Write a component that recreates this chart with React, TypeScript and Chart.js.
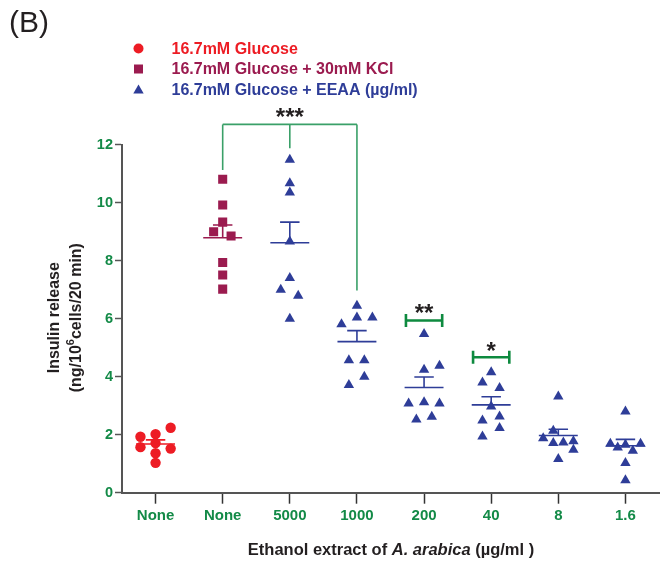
import React, { useEffect, useRef } from 'react';
import { Chart, registerables } from 'chart.js';

Chart.register(...registerables);

// ---------- data ----------
const categories = ['None', 'None', '5000', '1000', '200', '40', '8', '1.6'];

const seriesLabels = [
  '16.7mM Glucose',
  '16.7mM Glucose + 30mM KCl',
  '16.7mM Glucose + EEAA (\u00b5g/ml)',
];

// group 0: 16.7mM glucose only
const glucoseValues = [1.93, 2.02, 2.24, 1.57, 1.71, 1.52, 1.36, 1.03];
const glucoseJitter = [-0.225, 0, 0.225, -0.225, 0, 0.225, 0, 0];

// group 1: glucose + KCl
const kclValues = [10.81, 9.92, 9.33, 9.0, 8.85, 7.94, 7.51, 7.02];
const kclJitter = [0, 0, 0, -0.135, 0.125, 0, 0, 0];

// groups 2..7: glucose + EEAA at 5000, 1000, 200, 40, 8, 1.6 µg/ml
const eeaa5000 = [11.48, 10.67, 10.35, 8.66, 7.4, 7.0, 6.79, 6.0];
const eeaa5000Jitter = [0, 0, 0, 0, 0, -0.135, 0.125, 0];
const eeaa1000 = [6.45, 6.04, 5.81, 6.04, 4.57, 4.57, 4.0, 3.71];
const eeaa1000Jitter = [0, 0, -0.23, 0.23, -0.12, 0.11, 0.11, -0.12];
const eeaa200 = [5.47, 4.24, 4.38, 3.08, 3.12, 3.08, 2.52, 2.62];
const eeaa200Jitter = [0, 0, 0.23, -0.23, 0, 0.23, -0.115, 0.115];
const eeaa40 = [4.15, 3.8, 3.61, 2.97, 2.49, 2.63, 2.23, 1.94];
const eeaa40Jitter = [0, -0.13, 0.125, 0, -0.13, 0.125, 0.125, -0.13];
const eeaa8 = [3.32, 2.14, 1.88, 1.71, 1.73, 1.77, 1.48, 1.16];
const eeaa8Jitter = [0, -0.075, -0.225, -0.075, 0.075, 0.225, 0.225, 0];
const eeaa1p6 = [2.8, 1.69, 1.56, 1.65, 1.69, 1.45, 1.02, 0.43];
const eeaa1p6Jitter = [0, -0.225, -0.115, 0, 0.225, 0.11, 0, 0];

const eeaaGroups = [eeaa5000, eeaa1000, eeaa200, eeaa40, eeaa8, eeaa1p6];
const eeaaJitters = [eeaa5000Jitter, eeaa1000Jitter, eeaa200Jitter, eeaa40Jitter, eeaa8Jitter, eeaa1p6Jitter];

// mean and SEM per group
const groupMeans = [1.68, 8.79, 8.62, 5.21, 3.63, 3.03, 1.97, 1.62];
const groupSems = [0.14, 0.44, 0.71, 0.38, 0.36, 0.28, 0.22, 0.22];

// significance annotations
const bigBracketGroups = [1, 2, 3];
const bigBracketEnds = [11.13, 11.88, 6.97];
const bigBracketLevel = 12.7;
const bigBracketStars = '***';
const bigBracketStarLevel = 13.16;

const smallBracketGroups = [4, 5];
const smallBracketLevels = [5.94, 4.67];
const smallBracketStars = ['**', '*'];
const smallBracketStarLevels = [6.39, 5.09];

const yTicks = [0, 2, 4, 6, 8, 10, 12];

// ---------- styles ----------
const FONT = '"Liberation Sans", Arial, Helvetica, sans-serif';
const RED = '#ED1C24';
const MAROON = '#9B1B4F';
const BLUE = '#2E3D98';
const GREEN = '#138A47';
const BRACKET_LIGHT = '#3AA068';
const BRACKET_DARK = '#0E8A3F';
const DARK = '#231F20';
const AXIS = '#555555';
const seriesColors = [RED, MAROON, BLUE];
const seriesStyles = ['circle', 'rect', 'triangle'];

function drawMarker(ctx: CanvasRenderingContext2D, style: string, x: number, y: number, color: string) {
  ctx.fillStyle = color;
  ctx.beginPath();
  if (style === 'circle') {
    ctx.arc(x, y, 5, 0, Math.PI * 2);
  } else if (style === 'rect') {
    ctx.rect(x - 4.5, y - 4.5, 9, 9);
  } else {
    const r = 6;
    ctx.moveTo(x, y - r);
    ctx.lineTo(x + r * 0.866, y + r / 2);
    ctx.lineTo(x - r * 0.866, y + r / 2);
    ctx.closePath();
  }
  ctx.fill();
}

function drawStars(ctx: CanvasRenderingContext2D, text: string, x: number, yCenter: number, size: number) {
  ctx.font = `bold ${size}px ${FONT}`;
  ctx.fillStyle = DARK;
  ctx.textAlign = 'center';
  ctx.textBaseline = 'alphabetic';
  ctx.fillText(text, x, yCenter + size * 0.57);
}

const overlayPlugin = {
  id: 'overlay',
  beforeDatasetsDraw(chart: any) {
    const { ctx } = chart;
    const x = chart.scales.x;
    const y = chart.scales.y;
    ctx.save();
    groupMeans.forEach((m: number, i: number) => {
      const color = i === 0 ? RED : i === 1 ? MAROON : BLUE;
      const xc = x.getPixelForValue(i);
      const ym = y.getPixelForValue(m);
      const yt = y.getPixelForValue(m + groupSems[i]);
      const hw = x.getPixelForValue(i + 0.29) - xc;
      const cw = x.getPixelForValue(i + 0.145) - xc;
      ctx.strokeStyle = color;
      ctx.lineWidth = 1.6;
      ctx.beginPath();
      ctx.moveTo(xc - hw, ym);
      ctx.lineTo(xc + hw, ym);
      ctx.moveTo(xc, ym);
      ctx.lineTo(xc, yt);
      ctx.moveTo(xc - cw, yt);
      ctx.lineTo(xc + cw, yt);
      ctx.stroke();
    });
    ctx.restore();
  },
  afterDraw(chart: any) {
    const { ctx } = chart;
    const x = chart.scales.x;
    const y = chart.scales.y;
    const area = chart.chartArea;
    ctx.save();

    // big bracket
    ctx.strokeStyle = BRACKET_LIGHT;
    ctx.lineWidth = 1.6;
    ctx.beginPath();
    const yl = y.getPixelForValue(bigBracketLevel);
    const x0 = x.getPixelForValue(bigBracketGroups[0]);
    const x1 = x.getPixelForValue(bigBracketGroups[bigBracketGroups.length - 1]);
    ctx.moveTo(x0, yl);
    ctx.lineTo(x1, yl);
    bigBracketGroups.forEach((g, i) => {
      const gx = x.getPixelForValue(g);
      ctx.moveTo(gx, yl);
      ctx.lineTo(gx, y.getPixelForValue(bigBracketEnds[i]));
    });
    ctx.stroke();
    drawStars(ctx, bigBracketStars, x.getPixelForValue(bigBracketGroups[1]), y.getPixelForValue(bigBracketStarLevel), 24);

    // small brackets
    smallBracketGroups.forEach((g, i) => {
      const gx = x.getPixelForValue(g);
      const hw = x.getPixelForValue(g + 0.27) - gx;
      const ly = y.getPixelForValue(smallBracketLevels[i]);
      ctx.strokeStyle = BRACKET_DARK;
      ctx.lineWidth = 2.6;
      ctx.beginPath();
      ctx.moveTo(gx - hw, ly);
      ctx.lineTo(gx + hw, ly);
      ctx.moveTo(gx - hw, ly - 6.5);
      ctx.lineTo(gx - hw, ly + 6.5);
      ctx.moveTo(gx + hw, ly - 6.5);
      ctx.lineTo(gx + hw, ly + 6.5);
      ctx.stroke();
      drawStars(ctx, smallBracketStars[i], gx, y.getPixelForValue(smallBracketStarLevels[i]), 24);
    });

    // panel label
    ctx.fillStyle = DARK;
    ctx.font = `30px ${FONT}`;
    ctx.textAlign = 'left';
    ctx.textBaseline = 'middle';
    ctx.fillText('(B)', 9, 24);

    // legend
    ctx.font = `bold 16px ${FONT}`;
    seriesLabels.forEach((label, i) => {
      const ly = 48.5 + i * 20.5;
      drawMarker(ctx, seriesStyles[i], 138.5, i === 2 ? ly + 1 : ly, seriesColors[i]);
      ctx.fillStyle = seriesColors[i];
      ctx.textAlign = 'left';
      ctx.textBaseline = 'middle';
      ctx.fillText(label, 171.5, ly + 1);
    });

    // y-axis title
    ctx.save();
    const titleCy = (area.top + area.bottom) / 2 - 1;
    ctx.translate(55, titleCy);
    ctx.rotate(-Math.PI / 2);
    ctx.fillStyle = DARK;
    ctx.textBaseline = 'middle';
    ctx.textAlign = 'center';
    const tFont = `bold 16px ${FONT}`;
    const supFont = `bold 11px ${FONT}`;
    ctx.font = tFont;
    ctx.fillText('Insulin release', 0, 0);
    const p1 = '(ng/10';
    const p2 = '6';
    const p3 = 'cells/20 min)';
    ctx.font = tFont;
    const w1 = ctx.measureText(p1).width;
    const w3 = ctx.measureText(p3).width;
    ctx.font = supFont;
    const w2 = ctx.measureText(p2).width;
    const total = w1 + w2 + w3;
    let cx = -total / 2;
    ctx.textAlign = 'left';
    ctx.font = tFont;
    ctx.fillText(p1, cx, 22);
    cx += w1;
    ctx.font = supFont;
    ctx.fillText(p2, cx, 16);
    cx += w2;
    ctx.font = tFont;
    ctx.fillText(p3, cx, 22);
    ctx.restore();

    // x-axis title with italic species name
    const parts = [
      { t: 'Ethanol extract of ', f: `bold 16.5px ${FONT}` },
      { t: 'A. arabica', f: `italic bold 16.5px ${FONT}` },
      { t: ' (\u00b5g/ml )', f: `bold 16.5px ${FONT}` },
    ];
    let tw = 0;
    parts.forEach((p) => {
      ctx.font = p.f;
      tw += ctx.measureText(p.t).width;
    });
    let sx = 391 - tw / 2;
    ctx.fillStyle = DARK;
    ctx.textAlign = 'left';
    ctx.textBaseline = 'middle';
    parts.forEach((p) => {
      ctx.font = p.f;
      ctx.fillText(p.t, sx, 550.5);
      sx += ctx.measureText(p.t).width;
    });

    ctx.restore();
  },
};

function buildPoints(values: number[], jitter: number[], group: number) {
  return values.map((v, i) => ({ x: group + jitter[i], y: v }));
}

export default function App() {
  const canvasRef = useRef<HTMLCanvasElement | null>(null);

  useEffect(() => {
    const canvas = canvasRef.current;
    if (!canvas) return;
    const eeaaPoints: { x: number; y: number }[] = [];
    eeaaGroups.forEach((vals, gi) => {
      eeaaPoints.push(...buildPoints(vals, eeaaJitters[gi], gi + 2));
    });

    const chart = new Chart(canvas, {
      type: 'scatter',
      data: {
        datasets: [
          {
            label: seriesLabels[0],
            data: buildPoints(glucoseValues, glucoseJitter, 0),
            pointStyle: 'circle',
            pointRadius: 5.2,
            backgroundColor: RED,
            borderWidth: 0,
          },
          {
            label: seriesLabels[1],
            data: buildPoints(kclValues, kclJitter, 1),
            pointStyle: 'rect',
            pointRadius: 6.4,
            backgroundColor: MAROON,
            borderWidth: 0,
          },
          {
            label: seriesLabels[2],
            data: eeaaPoints,
            pointStyle: 'triangle',
            pointRadius: 6,
            backgroundColor: BLUE,
            borderWidth: 0,
          },
        ],
      },
      options: {
        responsive: false,
        animation: false,
        devicePixelRatio: 1,
        layout: { padding: { left: 0, right: 12, top: 144.7, bottom: 0 } },
        plugins: {
          legend: { display: false },
          tooltip: { enabled: false },
          title: { display: false },
        },
        scales: {
          x: {
            type: 'linear',
            min: -0.5,
            max: categories.length - 0.5,
            afterBuildTicks: (scale: any) => {
              scale.ticks = categories.map((_, i) => ({ value: i }));
            },
            afterFit: (scale: any) => {
              scale.height = 78.3;
            },
            ticks: {
              autoSkip: false,
              maxRotation: 0,
              minRotation: 0,
              padding: 3,
              color: GREEN,
              font: { family: FONT, size: 15, weight: 'bold' },
              callback: (v: any) => categories[Math.round(Number(v))] ?? '',
            },
            grid: {
              drawOnChartArea: false,
              drawTicks: true,
              tickLength: 11,
              tickColor: '#333',
              tickWidth: 1.5,
            },
            border: { display: true, color: AXIS, width: 2 },
          },
          y: {
            type: 'linear',
            min: 0,
            max: 12,
            afterBuildTicks: (scale: any) => {
              scale.ticks = yTicks.map((v) => ({ value: v }));
            },
            afterFit: (scale: any) => {
              scale.width = 122;
            },
            ticks: {
              padding: 2,
              color: GREEN,
              font: { family: FONT, size: 14.5, weight: 'bold' },
            },
            grid: {
              drawOnChartArea: false,
              drawTicks: true,
              tickLength: 7,
              tickColor: AXIS,
              tickWidth: 1.5,
            },
            border: { display: true, color: AXIS, width: 2 },
          },
        },
      },
      plugins: [overlayPlugin],
    } as any);

    return () => {
      chart.destroy();
    };
  }, []);

  return (
    <div style={{ position: 'fixed', left: 0, top: 0, width: 671, height: 571, background: '#ffffff' }}>
      <canvas ref={canvasRef} width={671} height={571} style={{ display: 'block' }} />
    </div>
  );
}
